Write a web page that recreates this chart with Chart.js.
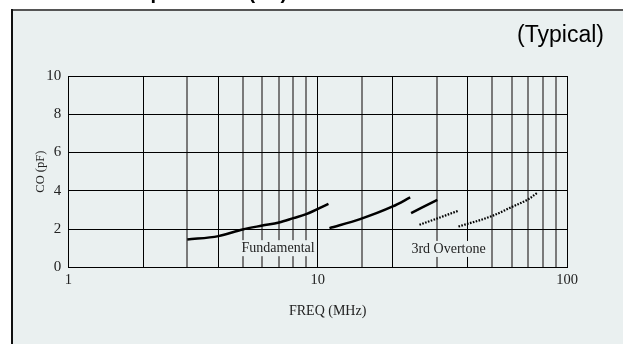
<!DOCTYPE html>
<html>
<head>
<meta charset="utf-8">
<script src="https://cdn.jsdelivr.net/npm/chart.js@4.4.1/dist/chart.umd.min.js"></script>
<style>
  html, body { margin: 0; padding: 0; background: #ffffff; }
  #wrap { position: relative; width: 623px; height: 344px; }
  canvas { display: block; }
</style>
</head>
<body>
<div id="wrap"><canvas id="c" width="623" height="344"></canvas></div>
<script>
// ---- Data ----
const xTickLabels = [1, 10, 100];
const yTicks = [0, 2, 4, 6, 8, 10];

// Fundamental (solid)
const fund1X = [3.0, 4.0, 5.0, 6.0, 7.0, 8.0, 9.0, 11.05];
const fund1Y = [1.45, 1.63, 1.98, 2.18, 2.34, 2.57, 2.78, 3.32];
const fund2X = [11.15, 14.8, 20.0, 23.5];
const fund2Y = [2.05, 2.52, 3.18, 3.65];
const fund3X = [23.7, 30.2];
const fund3Y = [2.83, 3.53];

// 3rd Overtone (dotted)
const ot1X = [25.6, 36.6];
const ot1Y = [2.22, 2.95];
const ot2X = [36.7, 50.0, 60.0, 70.0, 75.8];
const ot2Y = [2.13, 2.68, 3.15, 3.56, 3.88];

const noteTexts = ['Fundamental', '3rd Overtone'];
const noteX = [6.94, 33.5];
const noteY = [1.0, 0.96];

const titleText = 'Capacitance (C0)';
const subtitleText = '(Typical)';
const xTitleText = 'FREQ (MHz)';
const yTitleText = 'CO (pF)';

function pts(xs, ys) { return xs.map((x, i) => ({ x: x, y: ys[i] })); }

const solidStyle = { borderColor: '#000', borderWidth: 2.5, pointRadius: 0, cubicInterpolationMode: 'monotone', fill: false, borderCapStyle: 'butt' };
const dotStyle = { borderColor: '#000', borderWidth: 2.2, pointRadius: 0, cubicInterpolationMode: 'monotone', fill: false, borderDash: [1.6, 1.4], borderCapStyle: 'butt' };

const crispX = [1, 2, 4, 10, 20, 40, 100];
const serif = '"Liberation Serif", "Times New Roman", serif';

const framePlugin = {
  id: 'frame',
  beforeDraw(chart) {
    const ctx = chart.ctx;
    ctx.save();
    ctx.fillStyle = '#ffffff';
    ctx.fillRect(0, 0, chart.width, chart.height);
    ctx.fillStyle = '#eaf0f0';
    ctx.fillRect(11, 9, chart.width - 11, chart.height - 9);
    ctx.fillStyle = '#555';
    ctx.fillRect(11, 9, chart.width - 11, 2);
    ctx.fillStyle = '#111';
    ctx.fillRect(11, 9, 2, chart.height - 9);
    // clipped page title above frame
    ctx.fillStyle = '#000';
    ctx.font = 'bold 20px "Liberation Sans", Arial, sans-serif';
    ctx.textAlign = 'left';
    ctx.textBaseline = 'alphabetic';
    ctx.fillText(titleText, 125, -1);
    // (Typical)
    ctx.font = '23px "Liberation Sans", Arial, sans-serif';
    ctx.textAlign = 'right';
    ctx.fillText(subtitleText, 604, 42);
    // x-axis title
    ctx.fillStyle = '#222';
    ctx.font = '14px ' + serif;
    ctx.textAlign = 'center';
    ctx.textBaseline = 'middle';
    ctx.fillText(xTitleText, chart.chartArea.left + (chart.chartArea.right - chart.chartArea.left) / 2 + 10, 311.5);
    ctx.restore();
  },
  afterDatasetsDraw(chart) {
    const ctx = chart.ctx;
    const xs = chart.scales.x, ys = chart.scales.y;
    ctx.save();
    ctx.font = '14px ' + serif;
    ctx.textAlign = 'center';
    ctx.textBaseline = 'middle';
    noteTexts.forEach((t, i) => {
      const px = xs.getPixelForValue(noteX[i]);
      const py = ys.getPixelForValue(noteY[i]);
      const w = ctx.measureText(t).width;
      ctx.fillStyle = '#eaf0f0';
      ctx.fillRect(px - w / 2 - 1, py - 8, w + 2, 16);
      ctx.fillStyle = '#222';
      ctx.fillText(t, px, py);
    });
    ctx.restore();
  }
};

new Chart(document.getElementById('c'), {
  type: 'line',
  data: {
    datasets: [
      Object.assign({ label: 'Fundamental', data: pts(fund1X, fund1Y) }, solidStyle),
      Object.assign({ label: 'Fundamental 2', data: pts(fund2X, fund2Y) }, solidStyle),
      Object.assign({ label: 'Fundamental 3', data: pts(fund3X, fund3Y) }, solidStyle),
      Object.assign({ label: '3rd Overtone', data: pts(ot1X, ot1Y) }, dotStyle),
      Object.assign({ label: '3rd Overtone 2', data: pts(ot2X, ot2Y) }, dotStyle)
    ]
  },
  plugins: [framePlugin],
  options: {
    responsive: false,
    animation: false,
    devicePixelRatio: 1,
    layout: { padding: { left: 0, top: 76, right: 56, bottom: 0 } },
    plugins: { legend: { display: false }, tooltip: { enabled: false } },
    scales: {
      x: {
        type: 'logarithmic',
        min: 1, max: 100,
        border: { display: true, color: '#000', width: 1 },
        grid: {
          drawTicks: false,
          color: (c) => crispX.includes(c.tick && c.tick.value) ? '#000' : '#7a7a7a',
          lineWidth: (c) => crispX.includes(c.tick && c.tick.value) ? 1 : 2
        },
        ticks: {
          autoSkip: false, maxRotation: 0, minRotation: 0, padding: 4,
          color: '#222',
          font: { family: serif, size: 14.5 },
          callback: (v) => xTickLabels.includes(v) ? String(v) : ''
        },
        afterFit: (s) => { s.height = 76.7; }
      },
      y: {
        type: 'linear',
        min: 0, max: 10,
        afterBuildTicks: (s) => { s.ticks = yTicks.map(v => ({ value: v })); },
        border: { display: true, color: '#000', width: 1 },
        grid: { drawTicks: false, color: '#000', lineWidth: 1 },
        ticks: {
          padding: 7, color: '#222',
          font: { family: serif, size: 15 }
        },
        title: {
          display: true, text: yTitleText, color: '#222',
          font: { family: serif, size: 12.5 },
          padding: { top: 33, bottom: 0 }
        },
        afterFit: (s) => { s.width = 68.3; }
      }
    }
  }
});
</script>
</body>
</html>
